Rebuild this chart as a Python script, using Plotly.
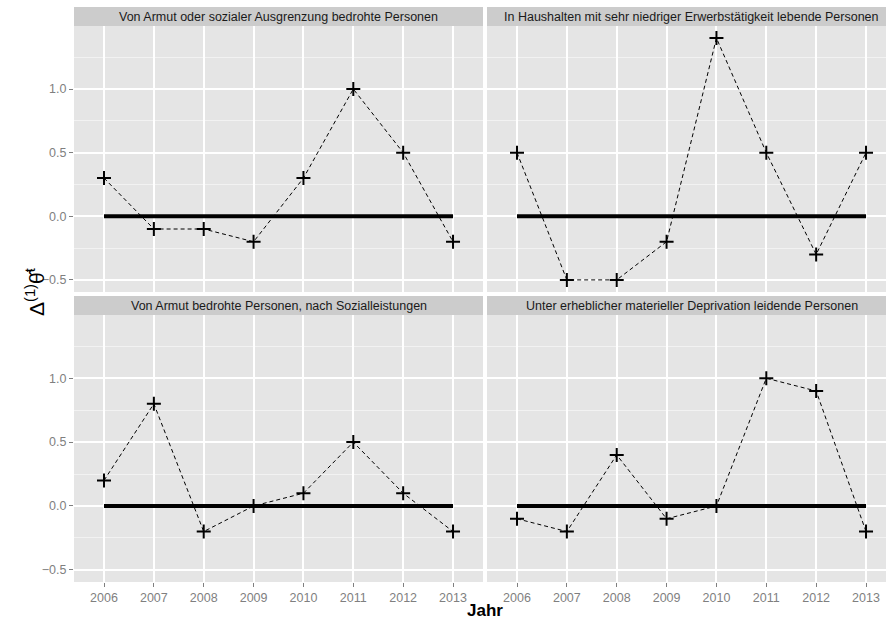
import plotly.graph_objects as go

years = [2006, 2007, 2008, 2009, 2010, 2011, 2012, 2013]
titles = [
    "Von Armut oder sozialer Ausgrenzung bedrohte Personen",
    "In Haushalten mit sehr niedriger Erwerbstätigkeit lebende Personen",
    "Von Armut bedrohte Personen, nach Sozialleistungen",
    "Unter erheblicher materieller Deprivation leidende Personen",
]
armut_ausgrenzung = [0.3, -0.1, -0.1, -0.2, 0.3, 1.0, 0.5, -0.2]
haushalte_erwerb = [0.5, -0.5, -0.5, -0.2, 1.4, 0.5, -0.3, 0.5]
armut_sozial = [0.2, 0.8, -0.2, 0.0, 0.1, 0.5, 0.1, -0.2]
deprivation = [-0.1, -0.2, 0.4, -0.1, 0.0, 1.0, 0.9, -0.2]
series = [armut_ausgrenzung, haushalte_erwerb, armut_sozial, deprivation]
zero_x = [2006, 2013]
zero_y = [0, 0]
y_ticks = [-0.5, 0.0, 0.5, 1.0]
y_ticktext = ["\u22120.5", "0.0", "0.5", "1.0"]
y_minor = [-0.25, 0.25, 0.75, 1.25]

W, H = 886, 621
# panel pixel boxes: (left, right, top, bottom, strip top)
panels = [
    (74, 483, 26, 292, 7),
    (487, 886, 26, 292, 7),
    (74, 483, 315, 582, 296),
    (487, 886, 315, 582, 296),
]
px_per_year = 49.86
FONT = "Liberation Sans, Arial, sans-serif"

fig = go.Figure()
layout = {}
shapes = []
annotations = []
for i, (l, r, t, b, st) in enumerate(panels):
    n = "" if i == 0 else str(i + 1)
    xa, ya = "x" + n, "y" + n
    vals = series[i]
    fig.add_trace(go.Scatter(x=zero_x, y=zero_y, mode="lines",
                             line=dict(color="black", width=4),
                             xaxis=xa, yaxis=ya, showlegend=False, hoverinfo="skip"))
    fig.add_trace(go.Scatter(x=years, y=vals, mode="lines+markers",
                             line=dict(color="black", width=1, dash="4px,3px"),
                             marker=dict(symbol="cross-thin", size=10, color="black",
                                         line=dict(color="black", width=2)),
                             xaxis=xa, yaxis=ya, showlegend=False))
    xr0 = 2006 - (104 - 74) / px_per_year
    xr1 = xr0 + (r - l) / px_per_year
    bottom_row = i >= 2
    left_col = i % 2 == 0
    layout["xaxis" + n] = dict(
        domain=[l / W, r / W], range=[xr0, xr1], anchor=ya,
        tickvals=years, ticktext=[str(y) for y in years],
        showticklabels=bottom_row, ticks="outside" if bottom_row else "",
        ticklen=4, tickcolor="#7F7F7F", tickwidth=1,
        tickfont=dict(family=FONT, size=12.5, color="#7F7F7F"),
        showgrid=True, gridcolor="white", gridwidth=1.8, zeroline=False,
        showline=False, fixedrange=True,
    )
    layout["yaxis" + n] = dict(
        domain=[1 - b / H, 1 - t / H], range=[-0.595, 1.495], anchor=xa,
        tickvals=y_ticks, ticktext=y_ticktext,
        showticklabels=left_col, ticks="outside" if left_col else "",
        ticklen=4, tickcolor="#7F7F7F", tickwidth=1,
        tickfont=dict(family=FONT, size=12.5, color="#7F7F7F"),
        showgrid=True, gridcolor="white", gridwidth=1.8, zeroline=False,
        minor=dict(tickvals=y_minor, showgrid=True,
                   gridcolor="#F2F2F2", gridwidth=0.8),
        showline=False, fixedrange=True,
    )
    shapes.append(dict(type="rect", xref="paper", yref="paper",
                       x0=l / W, x1=r / W, y0=1 - b / H, y1=1 - t / H,
                       fillcolor="#E5E5E5", line=dict(width=0), layer="below"))
    shapes.append(dict(type="rect", xref="paper", yref="paper",
                       x0=l / W, x1=r / W, y0=1 - t / H, y1=1 - st / H,
                       fillcolor="#CCCCCC", line=dict(width=0), layer="below"))
    annotations.append(dict(text=titles[i], xref="paper", yref="paper",
                            x=(l + (r if i % 2 == 0 else 896)) / 2 / W,
                            y=1 - (t + st) / 2 / H, showarrow=False,
                            xanchor="center", yanchor="middle",
                            font=dict(family=FONT, size=12.5, color="#1A1A1A")))

annotations.append(dict(text="<b>Jahr</b>", xref="paper", yref="paper",
                        x=485 / W, y=1 - 610 / H, showarrow=False,
                        xanchor="center", yanchor="middle",
                        font=dict(family=FONT, size=17, color="black")))
annotations.append(dict(text="\u0394<sup>(1)</sup>\u03b8\u0302<sup>t</sup>", xref="paper", yref="paper",
                        x=35 / W, y=1 - 292 / H, showarrow=False, textangle=-90,
                        xanchor="center", yanchor="middle",
                        font=dict(family=FONT, size=21, color="black")))

fig.update_layout(
    width=W, height=H, margin=dict(l=0, r=0, t=0, b=0),
    paper_bgcolor="white", plot_bgcolor="#E5E5E5",
    shapes=shapes, annotations=annotations, **layout,
)
fig.write_html("out.html", config={"displayModeBar": False})

with open("out.html", "r", encoding="utf-8") as f:
    html = f.read()
html = html.replace("<head>", "<head><style>html,body{margin:0;padding:0;overflow:hidden;}</style>", 1)
with open("out.html", "w", encoding="utf-8") as f:
    f.write(html)
